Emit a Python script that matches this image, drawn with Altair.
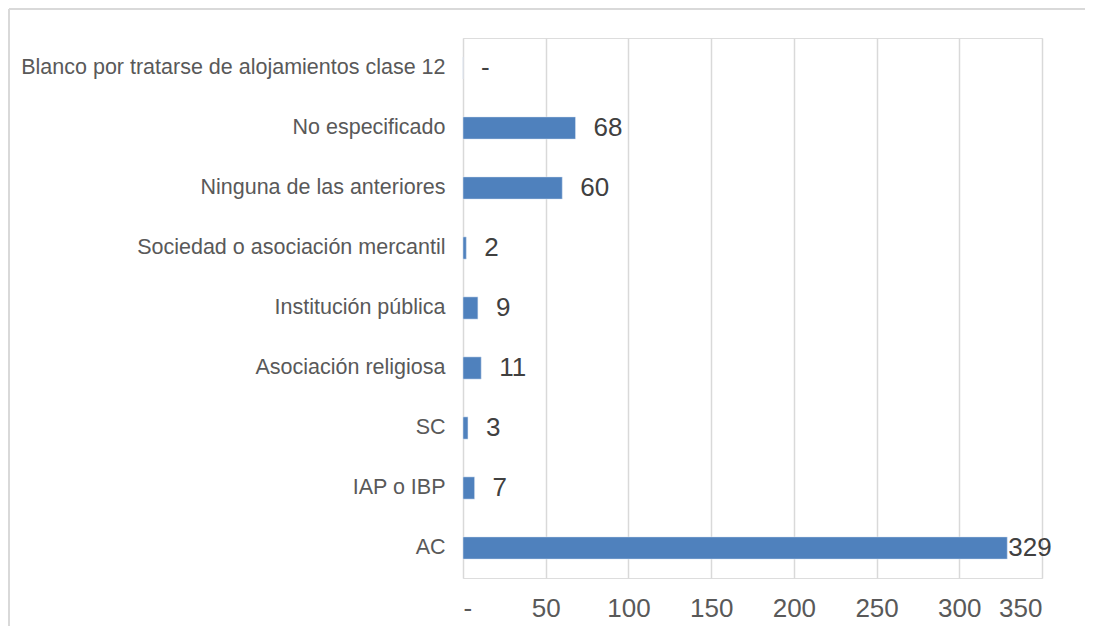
import altair as alt
import pandas as pd

categories = [
    "Blanco por tratarse de alojamientos clase 12",
    "No especificado",
    "Ninguna de las anteriores",
    "Sociedad o asociación mercantil",
    "Institución pública",
    "Asociación religiosa",
    "SC",
    "IAP o IBP",
    "AC",
]
values = [0, 68, 60, 2, 9, 11, 3, 7, 329]
tick_values = [0, 50, 100, 150, 200, 250, 300, 350]

df = pd.DataFrame({
    "categoria": categories,
    "valor": values,
    "etiqueta": [str(v) if v else "-" for v in values],
})

FONT = "Liberation Sans"
W, H = 579, 540

y_enc = alt.Y(
    "categoria:N",
    sort=categories,
    title=None,
    scale=alt.Scale(paddingInner=0.63, paddingOuter=0.315),
    axis=alt.Axis(
        domain=False, ticks=False, labelPadding=18, labelFontSize=21.5,
        labelColor="#595959", labelFont=FONT, labelLimit=500,
    ),
)
x_enc = alt.X(
    "valor:Q",
    title=None,
    scale=alt.Scale(domain=[0, 350], nice=False),
    axis=alt.Axis(
        values=tick_values, domain=False, ticks=False, grid=True,
        gridColor="#D9D9D9", gridWidth=1.5, labelPadding=17, labelFontSize=26,
        labelColor="#595959", labelFont=FONT,
        labelExpr="datum.value == 0 ? '-' : datum.label",
    ),
)

base = alt.Chart(df)

bars = base.mark_bar(color="#4F81BD", stroke="#DCE6F2", strokeWidth=0.5).encode(
    x=x_enc, y=y_enc
)

labels_small = base.transform_filter("datum.valor < 300").mark_text(
    align="left", baseline="middle", dx=18, fontSize=26, color="#404040", font=FONT
).encode(x="valor:Q", y=alt.Y("categoria:N", sort=categories), text="etiqueta:N")

labels_big = base.transform_filter("datum.valor >= 300").mark_text(
    align="left", baseline="middle", dx=1, fontSize=26, color="#404040", font=FONT
).encode(x="valor:Q", y=alt.Y("categoria:N", sort=categories), text="etiqueta:N")

frame_left = alt.Chart(df).mark_rule(color="#D9D9D9", strokeWidth=1.5).encode(
    x=alt.value(-454), y=alt.value(-29), y2=alt.value(600)
)
frame_top = alt.Chart(df).mark_rule(color="#D9D9D9", strokeWidth=1.5).encode(
    x=alt.value(-454), x2=alt.value(640), y=alt.value(-29)
)

chart = alt.layer(frame_left, frame_top, bars, labels_small, labels_big).properties(
    width=W,
    height=H,
    padding={"left": 455, "top": 30, "right": 43, "bottom": 48},
    autosize=alt.AutoSizeParams(type="none"),
).configure_view(stroke=None).configure(background="white")

chart.save("out.html", embed_options={"renderer": "svg", "actions": False})
